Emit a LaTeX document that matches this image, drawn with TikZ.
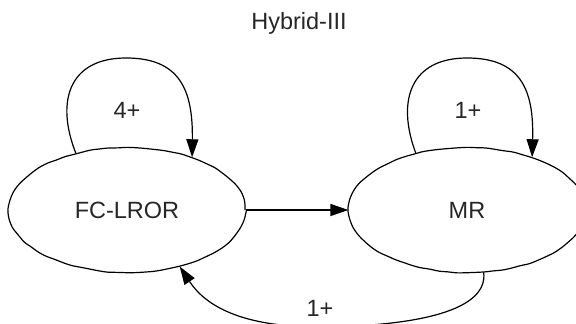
\documentclass[tikz,border=0pt]{standalone}
\usepackage{fontspec}
\setmainfont{Liberation Sans}
\usetikzlibrary{arrows.meta,shapes.geometric,decorations.pathmorphing}

\tikzset{
  state/.style={draw, ellipse, line width=1.2pt, inner sep=0pt,
    minimum width=236pt, minimum height=125pt, text=black!85,
    font=\fontsize{23.5}{28}\selectfont,
    decorate, decoration={random steps, segment length=9pt, amplitude=0.5pt},
    rounded corners=3pt},
  lbl/.style={inner sep=0pt, text=black!85, font=\fontsize{23.5}{28}\selectfont},
  edge/.style={line width=1.2pt, -{Triangle[length=18pt,width=12pt]}},
}

\begin{document}
\begin{tikzpicture}[x=1pt, y=-1pt]
  \pgfmathsetseed{7}
  \useasboundingbox (0,0) rectangle (576,324);

  \node[lbl] (title) at (299,23) {Hybrid-III};

  \node[state] (fc) at (127,210) {FC-LROR};
  \node[state] (mr) at (467,210) {MR};

  % self loop on FC-LROR
  \draw[edge] (fc.132) .. controls (55,100) and (70,58) .. (126,58)
              .. controls (180,58) and (193,90) .. (fc.39);
  \node[lbl] (l1) at (127,110) {4+};

  % self loop on MR
  \draw[edge] (mr.132) .. controls (396,100) and (411,58) .. (467,58)
              .. controls (521,58) and (534,90) .. (mr.39);
  \node[lbl] (l2) at (468,110) {1+};

  % FC-LROR -> MR
  \draw[edge] (fc.east) -- (mr.west);

  % MR -> FC-LROR along the bottom
  \draw[edge] (mr.-75) .. controls (488,310) and (420,326) .. (320,327)
              .. controls (240,327) and (205,305) .. (fc.-47);
  \node[lbl] (l3) at (320,308) {1+};
\end{tikzpicture}
\end{document}
